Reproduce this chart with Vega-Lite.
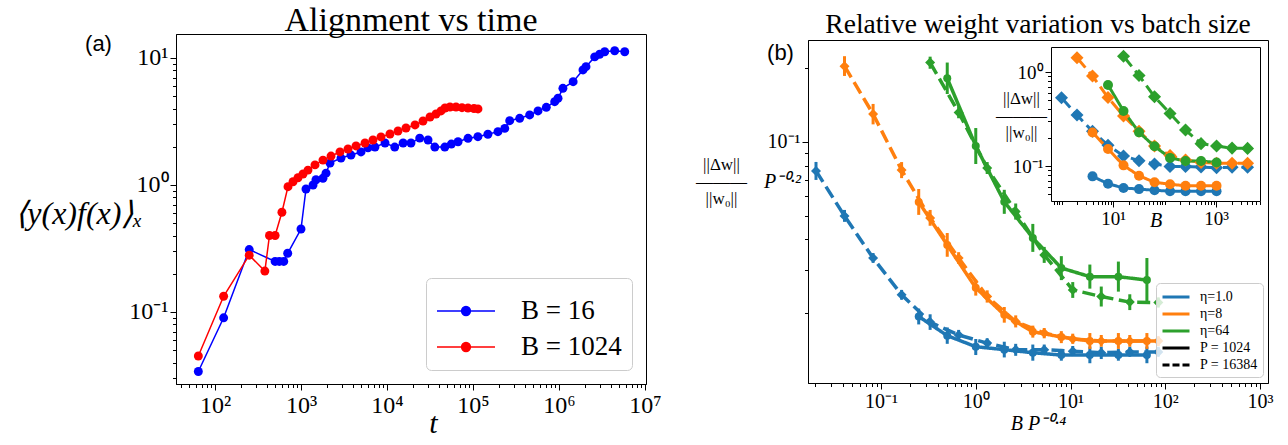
{
  "$schema": "https://vega.github.io/schema/vega-lite/v6.json",
  "padding": {"left": 14, "top": 3, "right": 5, "bottom": 5},
  "config": {
    "font": "Liberation Serif",
    "view": {"stroke": "black", "strokeWidth": 1},
    "axis": {"grid": false, "labelFont": "Liberation Serif", "titleFont": "Liberation Serif", "labelColor": "black", "titleColor": "black", "tickColor": "black", "domainColor": "black", "titleFontWeight": "normal", "tickWidth": 1, "domainWidth": 1},
    "title": {"font": "Liberation Serif", "fontWeight": "normal", "color": "black"},
    "legend": {"labelFont": "Liberation Serif", "labelColor": "black"}
  },
  "resolve": {"scale": {"color": "independent", "strokeDash": "independent", "shape": "independent", "size": "independent"}, "legend": {"color": "independent", "strokeDash": "independent", "shape": "independent", "size": "independent"}},
  "datasets": {
    "a": [
      {"series": "B = 16", "t": 64, "v": 0.034},
      {"series": "B = 16", "t": 126, "v": 0.09},
      {"series": "B = 16", "t": 250, "v": 0.31},
      {"series": "B = 16", "t": 500, "v": 0.25},
      {"series": "B = 16", "t": 560, "v": 0.25},
      {"series": "B = 16", "t": 630, "v": 0.25},
      {"series": "B = 16", "t": 700, "v": 0.29},
      {"series": "B = 16", "t": 1000, "v": 0.45},
      {"series": "B = 16", "t": 1143, "v": 0.93},
      {"series": "B = 16", "t": 1380, "v": 1.0},
      {"series": "B = 16", "t": 1493, "v": 1.1},
      {"series": "B = 16", "t": 1800, "v": 1.13},
      {"series": "B = 16", "t": 1954, "v": 1.24},
      {"series": "B = 16", "t": 2174, "v": 1.49},
      {"series": "B = 16", "t": 2917, "v": 1.63},
      {"series": "B = 16", "t": 3811, "v": 1.72},
      {"series": "B = 16", "t": 4986, "v": 1.82},
      {"series": "B = 16", "t": 6013, "v": 1.96},
      {"series": "B = 16", "t": 7250, "v": 1.99},
      {"series": "B = 16", "t": 9480, "v": 2.14},
      {"series": "B = 16", "t": 12300, "v": 1.99},
      {"series": "B = 16", "t": 15400, "v": 2.14},
      {"series": "B = 16", "t": 19000, "v": 2.14},
      {"series": "B = 16", "t": 24000, "v": 2.34},
      {"series": "B = 16", "t": 30000, "v": 2.26},
      {"series": "B = 16", "t": 36000, "v": 1.99},
      {"series": "B = 16", "t": 47000, "v": 1.99},
      {"series": "B = 16", "t": 56000, "v": 2.1},
      {"series": "B = 16", "t": 67000, "v": 2.19},
      {"series": "B = 16", "t": 87500, "v": 2.33},
      {"series": "B = 16", "t": 114000, "v": 2.4},
      {"series": "B = 16", "t": 149000, "v": 2.51},
      {"series": "B = 16", "t": 195000, "v": 2.63},
      {"series": "B = 16", "t": 234000, "v": 2.79},
      {"series": "B = 16", "t": 267000, "v": 3.21},
      {"series": "B = 16", "t": 349000, "v": 3.35},
      {"series": "B = 16", "t": 456000, "v": 3.56},
      {"series": "B = 16", "t": 570000, "v": 3.83},
      {"series": "B = 16", "t": 712000, "v": 4.09},
      {"series": "B = 16", "t": 891000, "v": 4.53},
      {"series": "B = 16", "t": 974000, "v": 4.82},
      {"series": "B = 16", "t": 1110000, "v": 5.77},
      {"series": "B = 16", "t": 1460000, "v": 6.51},
      {"series": "B = 16", "t": 1900000, "v": 8.05},
      {"series": "B = 16", "t": 2060000, "v": 8.54},
      {"series": "B = 16", "t": 2600000, "v": 10.2},
      {"series": "B = 16", "t": 2970000, "v": 10.7},
      {"series": "B = 16", "t": 3400000, "v": 11.2},
      {"series": "B = 16", "t": 4440000, "v": 11.4},
      {"series": "B = 16", "t": 5810000, "v": 11.2},
      {"series": "B = 1024", "t": 64, "v": 0.045},
      {"series": "B = 1024", "t": 126, "v": 0.133},
      {"series": "B = 1024", "t": 250, "v": 0.28},
      {"series": "B = 1024", "t": 380, "v": 0.21},
      {"series": "B = 1024", "t": 430, "v": 0.4},
      {"series": "B = 1024", "t": 500, "v": 0.4},
      {"series": "B = 1024", "t": 600, "v": 0.61},
      {"series": "B = 1024", "t": 706, "v": 0.97},
      {"series": "B = 1024", "t": 807, "v": 1.06},
      {"series": "B = 1024", "t": 922, "v": 1.14},
      {"series": "B = 1024", "t": 1055, "v": 1.22},
      {"series": "B = 1024", "t": 1206, "v": 1.31},
      {"series": "B = 1024", "t": 1455, "v": 1.44},
      {"series": "B = 1024", "t": 1800, "v": 1.57},
      {"series": "B = 1024", "t": 2234, "v": 1.69},
      {"series": "B = 1024", "t": 2840, "v": 1.82},
      {"series": "B = 1024", "t": 3520, "v": 1.92},
      {"series": "B = 1024", "t": 4365, "v": 2.03},
      {"series": "B = 1024", "t": 5550, "v": 2.14},
      {"series": "B = 1024", "t": 6870, "v": 2.26},
      {"series": "B = 1024", "t": 8510, "v": 2.39},
      {"series": "B = 1024", "t": 10830, "v": 2.52},
      {"series": "B = 1024", "t": 13430, "v": 2.66},
      {"series": "B = 1024", "t": 16630, "v": 2.81},
      {"series": "B = 1024", "t": 21180, "v": 2.97},
      {"series": "B = 1024", "t": 26250, "v": 3.19},
      {"series": "B = 1024", "t": 31620, "v": 3.43},
      {"series": "B = 1024", "t": 37150, "v": 3.62},
      {"series": "B = 1024", "t": 42470, "v": 3.83},
      {"series": "B = 1024", "t": 47250, "v": 4.04},
      {"series": "B = 1024", "t": 54000, "v": 4.11},
      {"series": "B = 1024", "t": 63450, "v": 4.11},
      {"series": "B = 1024", "t": 74460, "v": 4.06},
      {"series": "B = 1024", "t": 87470, "v": 4.04},
      {"series": "B = 1024", "t": 102700, "v": 4.0},
      {"series": "B = 1024", "t": 114300, "v": 3.97}
    ],
    "b": [
      {"eta": "η=1.0", "P": "P = 16384", "B": 1, "x": 0.0206, "y": 0.0762, "lo": 0.07, "hi": 0.0829, "r": 0.531},
      {"eta": "η=1.0", "P": "P = 16384", "B": 2, "x": 0.0412, "y": 0.0499, "lo": 0.0472, "hi": 0.0528, "r": 0.348},
      {"eta": "η=1.0", "P": "P = 16384", "B": 4, "x": 0.0825, "y": 0.0336, "lo": 0.0321, "hi": 0.0352, "r": 0.234},
      {"eta": "η=1.0", "P": "P = 16384", "B": 8, "x": 0.1649, "y": 0.0238, "lo": 0.0227, "hi": 0.0249, "r": 0.166},
      {"eta": "η=1.0", "P": "P = 16384", "B": 16, "x": 0.3299, "y": 0.0184, "lo": 0.0171, "hi": 0.0198, "r": 0.128},
      {"eta": "η=1.0", "P": "P = 16384", "B": 32, "x": 0.6597, "y": 0.0163, "lo": 0.0156, "hi": 0.0171, "r": 0.114},
      {"eta": "η=1.0", "P": "P = 16384", "B": 64, "x": 1.3195, "y": 0.0151, "lo": 0.0144, "hi": 0.0158, "r": 0.105},
      {"eta": "η=1.0", "P": "P = 16384", "B": 128, "x": 2.639, "y": 0.0142, "lo": 0.0134, "hi": 0.015, "r": 0.099},
      {"eta": "η=1.0", "P": "P = 16384", "B": 256, "x": 5.278, "y": 0.0142, "lo": 0.0135, "hi": 0.0149, "r": 0.099},
      {"eta": "η=1.0", "P": "P = 16384", "B": 512, "x": 10.556, "y": 0.014, "lo": 0.0134, "hi": 0.0147, "r": 0.0975},
      {"eta": "η=1.0", "P": "P = 16384", "B": 1024, "x": 21.11, "y": 0.0138, "lo": 0.013, "hi": 0.0146, "r": 0.0961},
      {"eta": "η=1.0", "P": "P = 16384", "B": 2048, "x": 42.22, "y": 0.0139, "lo": 0.0133, "hi": 0.0146, "r": 0.0968},
      {"eta": "η=1.0", "P": "P = 16384", "B": 4096, "x": 84.45, "y": 0.0139, "lo": 0.0133, "hi": 0.0146, "r": 0.0968},
      {"eta": "η=1.0", "P": "P = 1024", "B": 4, "x": 0.25, "y": 0.0194, "lo": 0.018, "hi": 0.0209, "r": 0.0776},
      {"eta": "η=1.0", "P": "P = 1024", "B": 8, "x": 0.5, "y": 0.0162, "lo": 0.015, "hi": 0.0175, "r": 0.0648},
      {"eta": "η=1.0", "P": "P = 1024", "B": 16, "x": 1, "y": 0.0146, "lo": 0.0135, "hi": 0.0157, "r": 0.0584},
      {"eta": "η=1.0", "P": "P = 1024", "B": 32, "x": 2, "y": 0.0142, "lo": 0.0132, "hi": 0.0153, "r": 0.0568},
      {"eta": "η=1.0", "P": "P = 1024", "B": 64, "x": 4, "y": 0.0138, "lo": 0.0128, "hi": 0.0149, "r": 0.0552},
      {"eta": "η=1.0", "P": "P = 1024", "B": 128, "x": 8, "y": 0.0135, "lo": 0.0128, "hi": 0.0143, "r": 0.054},
      {"eta": "η=1.0", "P": "P = 1024", "B": 256, "x": 16, "y": 0.0135, "lo": 0.0125, "hi": 0.0146, "r": 0.054},
      {"eta": "η=1.0", "P": "P = 1024", "B": 512, "x": 32, "y": 0.0135, "lo": 0.0128, "hi": 0.0143, "r": 0.054},
      {"eta": "η=1.0", "P": "P = 1024", "B": 1024, "x": 64, "y": 0.0135, "lo": 0.0125, "hi": 0.0146, "r": 0.054},
      {"eta": "η=8", "P": "P = 16384", "B": 2, "x": 0.0412, "y": 0.204, "lo": 0.186, "hi": 0.224, "r": 1.421},
      {"eta": "η=8", "P": "P = 16384", "B": 4, "x": 0.0825, "y": 0.13, "lo": 0.118, "hi": 0.143, "r": 0.905},
      {"eta": "η=8", "P": "P = 16384", "B": 8, "x": 0.1649, "y": 0.0768, "lo": 0.0712, "hi": 0.0828, "r": 0.535},
      {"eta": "η=8", "P": "P = 16384", "B": 16, "x": 0.3299, "y": 0.049, "lo": 0.0455, "hi": 0.0528, "r": 0.341},
      {"eta": "η=8", "P": "P = 16384", "B": 32, "x": 0.6597, "y": 0.0336, "lo": 0.0318, "hi": 0.0355, "r": 0.234},
      {"eta": "η=8", "P": "P = 16384", "B": 64, "x": 1.3195, "y": 0.0234, "lo": 0.0221, "hi": 0.0248, "r": 0.163},
      {"eta": "η=8", "P": "P = 16384", "B": 128, "x": 2.639, "y": 0.0185, "lo": 0.0175, "hi": 0.0196, "r": 0.129},
      {"eta": "η=8", "P": "P = 16384", "B": 256, "x": 5.278, "y": 0.0166, "lo": 0.0158, "hi": 0.0174, "r": 0.1156},
      {"eta": "η=8", "P": "P = 16384", "B": 512, "x": 10.556, "y": 0.0157, "lo": 0.015, "hi": 0.0165, "r": 0.1093},
      {"eta": "η=8", "P": "P = 16384", "B": 1024, "x": 21.11, "y": 0.0154, "lo": 0.0146, "hi": 0.0163, "r": 0.1072},
      {"eta": "η=8", "P": "P = 16384", "B": 2048, "x": 42.22, "y": 0.0154, "lo": 0.0146, "hi": 0.0163, "r": 0.1072},
      {"eta": "η=8", "P": "P = 16384", "B": 4096, "x": 84.45, "y": 0.0154, "lo": 0.0147, "hi": 0.0161, "r": 0.1072},
      {"eta": "η=8", "P": "P = 1024", "B": 4, "x": 0.25, "y": 0.0569, "lo": 0.0504, "hi": 0.0643, "r": 0.2276},
      {"eta": "η=8", "P": "P = 1024", "B": 8, "x": 0.5, "y": 0.038, "lo": 0.034, "hi": 0.0425, "r": 0.152},
      {"eta": "η=8", "P": "P = 1024", "B": 16, "x": 1, "y": 0.0254, "lo": 0.0236, "hi": 0.0274, "r": 0.1016},
      {"eta": "η=8", "P": "P = 1024", "B": 32, "x": 2, "y": 0.0197, "lo": 0.0183, "hi": 0.0212, "r": 0.0788},
      {"eta": "η=8", "P": "P = 1024", "B": 64, "x": 4, "y": 0.0168, "lo": 0.0159, "hi": 0.0178, "r": 0.0672},
      {"eta": "η=8", "P": "P = 1024", "B": 128, "x": 8, "y": 0.016, "lo": 0.0151, "hi": 0.0169, "r": 0.064},
      {"eta": "η=8", "P": "P = 1024", "B": 256, "x": 16, "y": 0.0154, "lo": 0.0143, "hi": 0.0166, "r": 0.0616},
      {"eta": "η=8", "P": "P = 1024", "B": 512, "x": 32, "y": 0.0154, "lo": 0.0143, "hi": 0.0166, "r": 0.0616},
      {"eta": "η=8", "P": "P = 1024", "B": 1024, "x": 64, "y": 0.0154, "lo": 0.0143, "hi": 0.0166, "r": 0.0616},
      {"eta": "η=64", "P": "P = 16384", "B": 16, "x": 0.3299, "y": 0.211, "lo": 0.199, "hi": 0.223, "r": 1.47},
      {"eta": "η=64", "P": "P = 16384", "B": 32, "x": 0.6597, "y": 0.132, "lo": 0.125, "hi": 0.14, "r": 0.919},
      {"eta": "η=64", "P": "P = 16384", "B": 64, "x": 1.3195, "y": 0.0783, "lo": 0.074, "hi": 0.0828, "r": 0.545},
      {"eta": "η=64", "P": "P = 16384", "B": 128, "x": 2.639, "y": 0.052, "lo": 0.0482, "hi": 0.0561, "r": 0.362},
      {"eta": "η=64", "P": "P = 16384", "B": 256, "x": 5.278, "y": 0.0346, "lo": 0.0321, "hi": 0.0373, "r": 0.241},
      {"eta": "η=64", "P": "P = 16384", "B": 512, "x": 10.556, "y": 0.0249, "lo": 0.0231, "hi": 0.0268, "r": 0.173},
      {"eta": "η=64", "P": "P = 16384", "B": 1024, "x": 21.11, "y": 0.0234, "lo": 0.0213, "hi": 0.0257, "r": 0.163},
      {"eta": "η=64", "P": "P = 16384", "B": 2048, "x": 42.22, "y": 0.0222, "lo": 0.0206, "hi": 0.0239, "r": 0.155},
      {"eta": "η=64", "P": "P = 16384", "B": 4096, "x": 84.45, "y": 0.0221, "lo": 0.0211, "hi": 0.0232, "r": 0.154},
      {"eta": "η=64", "P": "P = 1024", "B": 8, "x": 0.5, "y": 0.182, "lo": 0.157, "hi": 0.211, "r": 0.728},
      {"eta": "η=64", "P": "P = 1024", "B": 16, "x": 1, "y": 0.0963, "lo": 0.0813, "hi": 0.114, "r": 0.385},
      {"eta": "η=64", "P": "P = 1024", "B": 32, "x": 2, "y": 0.057, "lo": 0.0509, "hi": 0.0638, "r": 0.228},
      {"eta": "η=64", "P": "P = 1024", "B": 64, "x": 4, "y": 0.0406, "lo": 0.0356, "hi": 0.0463, "r": 0.162},
      {"eta": "η=64", "P": "P = 1024", "B": 128, "x": 8, "y": 0.0306, "lo": 0.0273, "hi": 0.0342, "r": 0.122},
      {"eta": "η=64", "P": "P = 1024", "B": 256, "x": 16, "y": 0.0282, "lo": 0.0252, "hi": 0.0316, "r": 0.113},
      {"eta": "η=64", "P": "P = 1024", "B": 512, "x": 32, "y": 0.0282, "lo": 0.0245, "hi": 0.0325, "r": 0.113},
      {"eta": "η=64", "P": "P = 1024", "B": 1024, "x": 64, "y": 0.0273, "lo": 0.0222, "hi": 0.0336, "r": 0.109}
    ]
  },
  "hconcat": [
    {
      "width": 470,
      "height": 350,
      "title": {"text": "Alignment vs time", "fontSize": 34, "offset": -6, "anchor": "middle"},
      "data": {"name": "a"},
      "resolve": {"axis": {"x": "independent", "y": "independent"}},
      "layer": [
        {
          "mark": {"type": "line", "strokeWidth": 1.5},
          "encoding": {
            "x": {"field": "t", "type": "quantitative", "scale": {"type": "log", "domain": [35.2, 10270000], "nice": false},
              "axis": {"title": "t", "titleFontStyle": "italic", "titleFontSize": 30, "titleX": 257, "titleY": 48, "titleBaseline": "alphabetic", "labelFontSize": 24, "labelPadding": 3, "labelOverlap": false, "labelFlush": false,
                "labelExpr": "abs(log(datum.value)/LN10-round(log(datum.value)/LN10))<1e-6 ? '10'+replace(replace(replace(replace(replace(replace(replace(replace(replace(toString(round(log(datum.value)/LN10)),'-','⁻'),'0','⁰'),'1','¹'),'2','²'),'3','³'),'4','⁴'),'5','⁵'),'6','⁶'),'7','⁷') : ''",
                "tickSize": {"condition": {"test": "abs(log(datum.value)/LN10-round(log(datum.value)/LN10))<1e-6", "value": 6}, "value": 3.5}}},
            "y": {"field": "v", "type": "quantitative", "scale": {"type": "log", "domain": [0.0271, 15.45], "nice": false},
              "axis": {"title": "⟨y(x)f(x)⟩ₓ", "titleFontStyle": "italic", "titleFontSize": 32, "titleAngle": 0, "titleAlign": "right", "titleBaseline": "middle", "titleX": -34, "titleY": 179, "labelFontSize": 24, "labelPadding": 2, "labelOverlap": false, "labelFlush": false,
                "labelExpr": "abs(log(datum.value)/LN10-round(log(datum.value)/LN10))<1e-6 ? '10'+replace(replace(replace(replace(toString(round(log(datum.value)/LN10)),'-','⁻'),'0','⁰'),'1','¹'),'2','²') : ''",
                "tickSize": {"condition": {"test": "abs(log(datum.value)/LN10-round(log(datum.value)/LN10))<1e-6", "value": 6}, "value": 3.5}}},
            "color": {"field": "series", "type": "nominal", "scale": {"domain": ["B = 16", "B = 1024"], "range": ["#0000ff", "#ff0000"]},
              "legend": {"title": null, "orient": "bottom-right", "offset": 14, "labelFontSize": 27, "labelOffset": 39, "padding": 10, "rowPadding": 0,
                "symbolType": "M-1,0L1.636,0M0.518,0A0.2,0.2,0,1,1,0.118,0A0.2,0.2,0,1,1,0.518,0Z", "symbolSize": 1936, "symbolStrokeWidth": 1.5,
                "fillColor": "rgba(255,255,255,0.8)", "strokeColor": "#cccccc", "cornerRadius": 5,
                "encode": {"symbols": {"update": {"fill": {"signal": "datum.value === 'B = 16' ? '#0000ff' : '#ff0000'"}, "fillOpacity": {"value": 1}}}}}}
          }
        },
        {
          "mark": {"type": "point", "filled": true, "size": 80, "opacity": 1},
          "encoding": {
            "x": {"field": "t", "type": "quantitative", "axis": {"orient": "top", "labels": false, "ticks": false, "domain": false, "title": "(a)", "titleFont": "Liberation Sans", "titleFontSize": 22, "titleX": -78, "titleY": 9, "titleAlign": "center", "titleBaseline": "middle"}},
            "y": {"field": "v", "type": "quantitative", "axis": null},
            "color": {"field": "series", "type": "nominal", "legend": null}
          }
        }
      ]
    },
    {
      "resolve": {"scale": {"color": "independent", "strokeDash": "independent", "shape": "independent", "size": "independent"}, "legend": {"color": "independent", "strokeDash": "independent", "shape": "independent", "size": "independent"}},
      "vconcat": [
        {"width": 1, "height": 1, "view": {"stroke": null}, "data": {"values": []}, "mark": "point", "encoding": {}},
        {
          "width": 460,
          "height": 343,
          "title": {"text": "Relative weight variation vs batch size", "fontSize": 27.5, "offset": 2, "anchor": "middle"},
          "data": {"name": "b"},
          "resolve": {"scale": {"x": "independent", "y": "independent", "size": "independent"}, "axis": {"x": "independent", "y": "independent"}},
          "layer": [
            {
              "resolve": {"axis": {"x": "independent", "y": "independent"}},
              "layer": [
                {
                  "mark": {"type": "rule", "strokeWidth": 3},
                  "encoding": {
                    "x": {"field": "x", "type": "quantitative", "scale": {"type": "log", "domain": [0.01696, 1214], "nice": false}, "axis": null},
                    "y": {"field": "lo", "type": "quantitative", "scale": {"type": "log", "domain": [0.01038, 0.2608], "nice": false}, "axis": null},
                    "y2": {"field": "hi"},
                    "color": {"field": "eta", "type": "nominal"}
                  }
                },
                {
                  "mark": {"type": "line", "strokeWidth": 3.5},
                  "encoding": {
                    "x": {"field": "x", "type": "quantitative", "scale": {"type": "log", "domain": [0.01696, 1214], "nice": false},
                      "axis": {"title": "B P⁻⁰·⁴", "titleFontStyle": "italic", "titleFontSize": 20, "titlePadding": 2, "labelFontSize": 20, "labelPadding": 2, "labelOverlap": false, "labelFlush": false,
                        "labelExpr": "abs(log(datum.value)/LN10-round(log(datum.value)/LN10))<1e-6 ? '10'+replace(replace(replace(replace(replace(toString(round(log(datum.value)/LN10)),'-','⁻'),'0','⁰'),'1','¹'),'2','²'),'3','³') : ''",
                        "tickSize": {"condition": {"test": "abs(log(datum.value)/LN10-round(log(datum.value)/LN10))<1e-6", "value": 6}, "value": 3.5}}},
                    "y": {"field": "y", "type": "quantitative", "scale": {"type": "log", "domain": [0.01038, 0.2608], "nice": false},
                      "axis": {"title": ["||Δw||", "———", "||w₀||"], "titleFontSize": 17, "titleAngle": 0, "titleAlign": "center", "titleBaseline": "middle", "titleX": -87, "titleY": 124, "titleLineHeight": 17, "labelFontSize": 20, "labelPadding": 2, "labelOverlap": false, "labelFlush": false,
                        "labelExpr": "abs(log(datum.value)/LN10-round(log(datum.value)/LN10))<1e-6 ? '10'+replace(replace(toString(round(log(datum.value)/LN10)),'-','⁻'),'1','¹') : ''",
                        "tickSize": {"condition": {"test": "abs(log(datum.value)/LN10-round(log(datum.value)/LN10))<1e-6", "value": 6}, "value": 3.5}}},
                    "color": {"field": "eta", "type": "nominal", "scale": {"domain": ["η=1.0", "η=8", "η=64", "P = 1024", "P = 16384"], "range": ["#1f77b4", "#ff7f0e", "#2ca02c", "#000000", "#000000"]},
                      "legend": {"title": null, "orient": "none", "legendX": 348, "legendY": 243, "labelFontSize": 14, "labelOffset": 21, "padding": 5, "rowPadding": 1,
                        "symbolType": "M-1,0L2.6,0", "symbolSize": 225, "symbolStrokeWidth": 3,
                        "fillColor": "rgba(255,255,255,0.8)", "strokeColor": "#cccccc", "cornerRadius": 4,
                        "encode": {"symbols": {"update": {"strokeDash": {"signal": "datum.value === 'P = 16384' ? [7, 3] : [1, 0]"}, "fill": {"value": "transparent"}}}}}},
                    "strokeDash": {"field": "P", "type": "nominal", "scale": {"domain": ["P = 1024", "P = 16384"], "range": [[1, 0], [13, 5.6]]}, "legend": null}
                  }
                },
                {
                  "mark": {"type": "point", "filled": true, "opacity": 1},
                  "encoding": {
                    "x": {"field": "x", "type": "quantitative", "scale": {"type": "log", "domain": [0.01696, 1214], "nice": false}, "axis": {"orient": "top", "labels": false, "ticks": false, "domain": false, "title": "(b)", "titleFont": "Liberation Sans", "titleFontSize": 22, "titleX": -28, "titleY": 12, "titleAlign": "center", "titleBaseline": "middle"}},
                    "y": {"field": "y", "type": "quantitative", "scale": {"type": "log", "domain": [0.01038, 0.2608], "nice": false}, "axis": {"orient": "right", "labels": false, "ticks": false, "domain": false, "title": "P⁻⁰·²", "titleFontStyle": "italic", "titleFontSize": 20, "titleAngle": 0, "titleAlign": "center", "titleBaseline": "middle", "titleX": -486, "titleY": 141}},
                    "color": {"field": "eta", "type": "nominal"},
                    "shape": {"field": "P", "type": "nominal", "scale": {"domain": ["P = 1024", "P = 16384"], "range": ["circle", "diamond"]}, "legend": null},
                    "size": {"field": "P", "type": "ordinal", "scale": {"domain": ["P = 1024", "P = 16384"], "range": [64, 100]}, "legend": null}
                  }
                }
              ]
            },
            {
              "resolve": {"axis": {"x": "independent", "y": "independent"}},
              "layer": [
                {
                  "mark": {"type": "line", "strokeWidth": 3},
                  "encoding": {
                    "x": {"field": "B", "type": "quantitative", "scale": {"type": "log", "domain": [0.6253, 7145], "nice": false, "range": [243, 452]},
                      "axis": {"offset": -182, "title": "B", "titleFontStyle": "italic", "titleFontSize": 20, "titleY": 19, "titleBaseline": "middle", "labelFontSize": 19, "labelPadding": 2, "labelOverlap": false, "labelFlush": false,
                        "labelExpr": "abs(log(datum.value)/LN10-1)<1e-6 ? '10¹' : abs(log(datum.value)/LN10-3)<1e-6 ? '10³' : ''",
                        "tickSize": {"condition": {"test": "abs(log(datum.value)/LN10-1)<1e-6 || abs(log(datum.value)/LN10-3)<1e-6", "value": 6}, "value": 3.5}}},
                    "y": {"field": "r", "type": "quantitative", "scale": {"type": "log", "domain": [0.04245, 1.845], "nice": false, "range": [161, 7]},
                      "axis": {"offset": -243, "title": ["||Δw||", "———", "||w₀||"], "titleFontSize": 17, "titleAngle": 0, "titleAlign": "center", "titleBaseline": "middle", "titleX": -30, "titleY": 58, "titleLineHeight": 17, "labelFontSize": 19, "labelPadding": 2, "labelOverlap": false, "labelFlush": false,
                        "labelExpr": "abs(log(datum.value)/LN10-round(log(datum.value)/LN10))<1e-6 ? '10'+replace(replace(replace(toString(round(log(datum.value)/LN10)),'-','⁻'),'0','⁰'),'1','¹') : ''",
                        "tickSize": {"condition": {"test": "abs(log(datum.value)/LN10-round(log(datum.value)/LN10))<1e-6", "value": 6}, "value": 3.5}}},
                    "color": {"field": "eta", "type": "nominal", "legend": null},
                    "strokeDash": {"field": "P", "type": "nominal", "legend": null}
                  }
                },
                {
                  "mark": {"type": "point", "filled": true, "opacity": 1},
                  "encoding": {
                    "x": {"field": "B", "type": "quantitative", "scale": {"type": "log", "domain": [0.6253, 7145], "nice": false, "range": [243, 452]},
                      "axis": {"orient": "top", "offset": -7, "labels": false, "ticks": false, "domain": true, "title": null}},
                    "y": {"field": "r", "type": "quantitative", "scale": {"type": "log", "domain": [0.04245, 1.845], "nice": false, "range": [161, 7]},
                      "axis": {"orient": "right", "offset": -8, "labels": false, "ticks": false, "domain": true, "title": null}},
                    "color": {"field": "eta", "type": "nominal", "legend": null},
                    "shape": {"field": "P", "type": "nominal", "legend": null},
                    "size": {"field": "P", "type": "ordinal", "scale": {"domain": ["P = 1024", "P = 16384"], "range": [100, 170]}, "legend": null}
                  }
                }
              ]
            }
          ]
        }
      ],
      "spacing": 5,
      "bounds": "flush"
    }
  ],
  "spacing": 162,
  "bounds": "flush"
}
